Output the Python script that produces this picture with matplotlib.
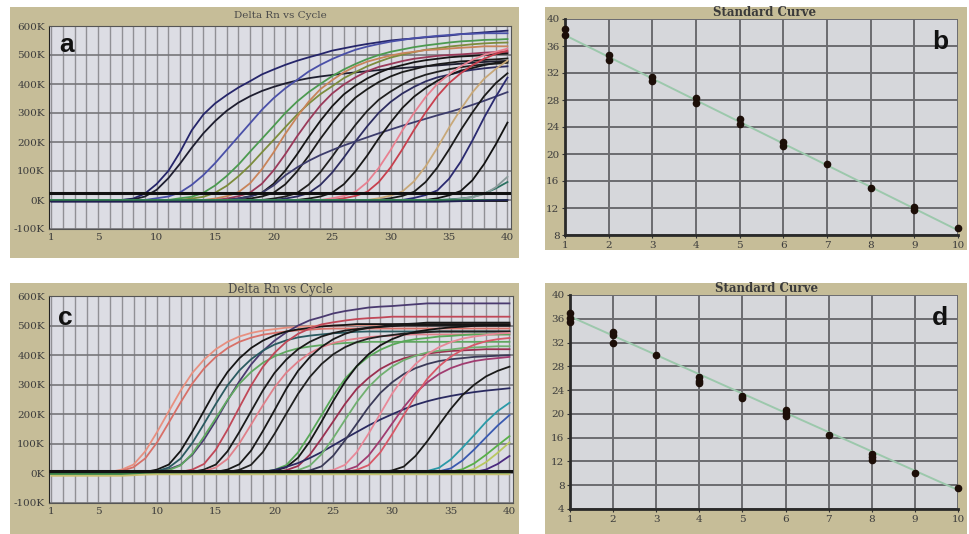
import matplotlib
matplotlib.use("Agg")
import matplotlib.pyplot as plt
from matplotlib.patches import Rectangle
from matplotlib.ticker import FixedLocator, MultipleLocator

# ---- data ----
cycles = list(range(1, 41))
amp_xticks = [1, 5, 10, 15, 20, 25, 30, 35, 40]
amp_yticks = [-100, 0, 100, 200, 300, 400, 500, 600]
amp_ylabels = ["-100K", "0K", "100K", "200K", "300K", "400K", "500K", "600K"]

# panel a curves (delta Rn in K, cycle 1..40)
a01 = [0,0,0,0,0,0,0,5,22,55,100,165,240,295,333,362,388,410,433,450,466,480,492,503,515,523,531,538,544,550,554,557,561,564,567,572,575,578,581,584]
a02 = [0,0,0,0,0,0,0,2,12,35,75,125,180,230,272,308,336,358,376,390,402,412,420,426,431,436,440,444,448,452,455,458,461,464,467,470,473,476,478,480]
a03 = [0,0,0,0,0,0,0,0,0,6,12,26,52,86,127,173,219,265,311,351,385,414,443,466,486,503,518,529,538,546,552,558,562,566,569,572,573,575,575,575]
a04 = [0,0,0,0,0,0,0,0,0,0,0,6,11,25,50,83,122,167,211,255,300,339,372,400,427,450,469,486,500,511,519,527,533,538,543,547,549,552,553,555]
a05 = [0,0,0,0,0,0,0,0,0,0,0,0,5,11,25,49,82,120,164,207,251,294,332,365,392,420,441,461,477,491,501,510,518,523,529,533,537,540,542,543]
a06 = [0,0,0,0,0,0,0,0,0,0,0,0,0,0,5,13,27,58,106,164,228,286,339,382,413,440,461,477,488,498,506,511,517,519,522,525,527,530,530,530]
a07 = [0,0,0,0,0,0,0,0,0,0,0,0,0,0,0,5,13,26,56,102,158,219,275,326,367,398,423,444,459,469,479,487,492,497,500,502,505,508,510,510]
a08 = [0,0,0,0,0,0,0,0,0,0,0,0,0,0,0,0,5,13,25,56,101,157,217,273,323,364,394,419,439,455,465,475,482,487,492,495,497,500,503,505]
a09 = [0,0,0,0,0,0,0,0,0,0,0,0,0,0,0,0,0,5,12,25,54,98,152,211,265,314,353,382,407,426,441,451,461,468,473,478,480,483,485,488]
a10 = [0,0,0,0,0,0,0,0,0,0,0,0,0,0,0,0,0,0,0,5,12,24,53,96,149,206,259,307,346,374,398,418,432,442,451,458,463,468,470,473]
a11 = [0,0,0,0,0,0,0,0,0,0,0,0,0,0,0,0,0,0,0,0,5,12,24,52,94,146,202,254,301,338,367,390,409,423,432,442,449,454,458,461]
a12 = [0,0,0,0,0,0,0,0,0,0,0,0,0,0,0,0,5,12,25,50,85,112,135,155,172,188,202,216,230,243,256,268,280,292,303,315,328,342,357,372]
a13 = [0,0,0,0,0,0,0,0,0,0,0,0,0,0,0,0,0,0,0,0,0,0,5,12,25,54,99,153,213,267,317,356,386,411,431,446,455,465,473,478]
a14 = [0,0,0,0,0,0,0,0,0,0,0,0,0,0,0,0,0,0,0,0,0,0,0,0,6,14,28,61,111,172,239,300,355,400,433,461,483,500,511,522]
a15 = [0,0,0,0,0,0,0,0,0,0,0,0,0,0,0,0,0,0,0,0,0,0,0,0,0,6,14,28,62,112,174,241,302,358,403,437,465,487,504,515]
a16 = [0,0,0,0,0,0,0,0,0,0,0,0,0,0,0,0,0,0,0,0,0,0,0,0,0,0,0,0,6,15,29,64,116,180,249,313,371,418,452,481]
a17 = [0,0,0,0,0,0,0,0,0,0,0,0,0,0,0,0,0,0,0,0,0,0,0,0,0,0,0,0,0,6,14,28,62,112,174,241,302,358,403,437]
a18 = [0,0,0,0,0,0,0,0,0,0,0,0,0,0,0,0,0,0,0,0,0,0,0,0,0,0,0,0,0,0,0,7,17,33,73,132,205,284,356,422]
a19 = [0,0,0,0,0,0,0,0,0,0,0,0,0,0,0,0,0,0,0,0,0,0,0,0,0,0,0,0,0,0,0,0,0,6,16,31,68,124,192,267]
a20 = [0,0,0,0,0,0,0,0,0,0,0,0,0,0,0,0,0,0,0,0,0,0,0,0,0,0,0,0,0,0,0,0,0,0,2,5,10,22,40,62]
a21 = [0,0,0,0,0,0,0,0,0,0,0,0,0,0,0,0,0,0,0,0,0,0,0,0,0,0,0,0,0,0,0,0,0,0,0,4,10,20,44,80]
a22 = [-3,-3,-3,-3,-3,-3,-3,-3,-3,-3,-3,-3,-3,-3,-3,-3,-3,-3,-3,-3,-3,-3,-3,-3,-3,-3,-3,-3,-3,-3,-3,-3,-3,-3,-3,-3,-3,-3,-3,-3]
a23 = [-1,-1,-1,-1,-1,-1,-1,-1,-1,-1,-1,-1,-1,-1,-1,-1,-1,-1,-1,-1,-1,-1,-1,-1,-1,-1,-1,-1,-1,-1,-1,-1,-1,-1,-1,-1,-1,-1,-1,-1]
a24 = [-6,-6,-6,-6,-6,-6,-6,-6,-6,-6,-6,-6,-6,-6,-6,-6,-6,-6,-6,-6,-6,-6,-6,-6,-6,-6,-6,-6,-6,-6,-6,-6,-6,-6,-5,-4,-3,-2,-1,0]
a_colors = ["#25256a", "#1e1e30", "#4a50a8", "#4c9a50", "#7c8c3c", "#c8845a",
            "#9a3a5a", "#151515", "#1a1a1a", "#202020", "#2c2c60", "#3c3c6c",
            "#181818", "#e88090", "#c8404e", "#c8a878", "#1a1a1a", "#2a2a70",
            "#111111", "#2a7060", "#8a9a9a", "#101010", "#2e8050", "#202050"]
a_thresh = 25

# panel c curves
c01 = [0,0,0,0,0,5,13,30,75,140,210,280,340,385,420,445,463,475,483,488,493,495,498,500,500,501,502,502,503,503,503,504,504,504,505,505,505,505,505,505]
c02 = [0,0,0,0,0,2,9,21,51,105,172,240,304,355,394,424,445,459,469,475,480,484,486,489,490,490,490,490,490,490,490,490,490,490,490,490,490,490,490,490]
c03 = [0,0,0,0,0,0,0,0,0,6,14,29,63,115,178,247,311,368,414,449,477,500,518,529,541,549,555,561,564,566,569,572,575,575,575,575,575,575,575,575]
c04 = [0,0,0,0,0,0,0,0,5,13,30,76,141,212,283,343,389,424,449,467,480,487,492,497,500,502,505,505,505,505,505,505,505,505,505,505,505,505,505,505]
c05 = [0,0,0,0,0,0,0,0,2,8,20,50,103,168,235,298,348,386,415,436,450,460,466,470,474,476,479,480,480,480,480,480,480,480,480,480,480,480,480,480]
c06 = [0,0,0,0,0,0,0,0,0,4,11,27,67,125,187,249,303,343,374,396,412,423,429,434,438,441,443,445,445,445,445,445,445,445,445,445,445,445,445,445]
c07 = [0,0,0,0,0,0,0,0,0,0,0,5,13,32,80,148,223,297,360,408,445,472,490,504,511,517,522,525,527,530,530,530,530,530,530,530,530,530,530,530]
c08 = [0,0,0,0,0,0,0,0,0,0,0,0,5,13,30,75,140,210,280,340,385,420,445,463,475,483,488,493,495,498,500,500,500,500,500,500,500,500,500,500]
c09 = [0,0,0,0,0,0,0,0,0,0,0,0,2,8,20,49,101,165,230,291,341,378,407,427,441,450,456,461,464,466,469,470,470,470,470,470,470,470,470,470]
c10 = [0,0,0,0,0,0,0,0,0,0,0,0,0,0,5,13,31,77,143,214,286,347,393,428,454,472,485,492,497,502,505,507,510,510,510,510,510,510,510,510]
c11 = [0,0,0,0,0,0,0,0,0,0,0,0,0,0,0,5,12,29,72,134,202,269,326,370,403,427,444,456,463,468,473,475,478,480,480,480,480,480,480,480]
c12 = [0,0,0,0,0,0,0,0,0,0,0,0,0,0,0,0,0,0,5,12,28,71,132,197,263,320,362,395,418,435,447,454,458,463,465,468,470,470,470,470]
c13 = [0,0,0,0,0,0,0,0,0,0,0,0,0,0,0,0,0,0,3,9,21,53,108,175,245,310,363,403,433,454,469,479,485,490,494,496,499,500,500,500]
c14 = [0,0,0,0,0,0,0,0,0,0,0,0,0,0,0,0,0,0,0,4,11,25,63,118,176,235,286,323,353,374,389,399,405,410,414,416,418,420,420,420]
c15 = [0,0,0,0,0,0,0,0,0,0,0,0,0,0,0,0,0,0,5,12,22,35,52,72,95,118,140,162,182,200,217,232,244,254,262,269,275,280,284,288]
c16 = [0,0,0,0,0,0,0,0,0,0,0,0,0,0,0,0,0,0,0,0,4,11,26,65,120,181,241,292,331,361,383,398,409,415,419,424,426,428,430,430]
c17 = [0,0,0,0,0,0,0,0,0,0,0,0,0,0,0,0,0,0,0,0,0,4,10,24,60,112,168,224,272,308,336,356,370,380,386,390,394,396,398,400]
c18 = [0,0,0,0,0,0,0,0,0,0,0,0,0,0,0,0,0,0,0,0,0,0,0,5,12,29,72,134,202,269,326,370,403,427,444,456,463,468,473,475]
c19 = [0,0,0,0,0,0,0,0,0,0,0,0,0,0,0,0,0,0,0,0,0,0,0,0,4,10,24,60,112,168,224,272,308,336,356,370,380,386,390,394]
c20 = [0,0,0,0,0,0,0,0,0,0,0,0,0,0,0,0,0,0,0,0,0,0,0,0,0,5,12,28,71,132,197,263,320,362,395,418,435,447,454,458]
c21 = [0,0,0,0,0,0,0,0,0,0,0,0,0,0,0,0,0,0,0,0,0,0,0,0,0,0,0,0,4,10,23,59,109,164,218,265,300,328,347,361]
c22 = [0,0,0,0,0,0,0,0,0,0,0,0,0,0,0,0,0,0,0,0,0,0,0,0,0,0,0,0,0,0,0,3,8,19,47,87,130,174,211,239]
c23 = [0,0,0,0,0,0,0,0,0,0,0,0,0,0,0,0,0,0,0,0,0,0,0,0,0,0,0,0,0,0,0,0,3,7,17,44,81,122,162,197]
c24 = [0,0,0,0,0,0,0,0,0,0,0,0,0,0,0,0,0,0,0,0,0,0,0,0,0,0,0,0,0,0,0,0,0,2,6,14,34,63,95,126]
c25 = [0,0,0,0,0,0,0,0,0,0,0,0,0,0,0,0,0,0,0,0,0,0,0,0,0,0,0,0,0,0,0,0,0,0,3,6,15,38,70,105]
c26 = [0,0,0,0,0,0,0,0,0,0,0,0,0,0,0,0,0,0,0,0,0,0,0,0,0,0,0,0,0,0,0,0,0,0,0,2,5,13,32,59]
c27 = [2,2,2,2,2,2,2,2,2,2,2,2,2,2,2,2,2,2,2,2,2,2,2,2,2,2,2,2,2,2,2,2,2,2,2,2,2,2,2,2]
c28 = [-3,-3,-3,-3,-3,-3,-3,-3,-3,-3,-3,-3,-3,-3,-3,-3,-3,-3,-3,-3,-3,-3,-3,-3,-3,-3,-3,-3,-3,-3,-3,-3,-3,-3,-3,-3,-3,-3,-3,-3]
c29 = [-8,-8,-8,-8,-8,-8,-8,-6,-4,-3,-3,-3,-3,-3,-3,-3,-3,-3,-3,-3,-3,-3,-3,-3,-3,-3,-3,-3,-3,-3,-3,-3,-3,-3,-3,-3,-3,-3,-3,-3]
c_colors = ["#e89080", "#d87068", "#4a3a70", "#151515", "#2a5a60", "#60a860",
            "#c04858", "#1a1a1a", "#e0808a", "#181818", "#202020", "#58a858",
            "#151515", "#9a3050", "#2a2a60", "#70b070", "#3a3a58", "#e88898",
            "#a03c70", "#d85868", "#1a1a1a", "#2a9aa8", "#3a5ab0", "#58b048",
            "#b8c860", "#4a2a80", "#101010", "#3a8a4a", "#c8c070"]
c_thresh = 8

# standard curves (log quantity vs Ct)
std_xticks = [1, 2, 3, 4, 5, 6, 7, 8, 9, 10]
b_x = [1, 1, 2, 2, 3, 3, 4, 4, 5, 5, 6, 6, 7, 8, 9, 9, 10]
b_y = [38.5, 37.7, 34.6, 34.0, 31.4, 30.8, 28.3, 27.6, 25.2, 24.5, 21.8, 21.2, 18.5, 15.0, 12.1, 11.7, 9.0]
b_fit_x = [1, 10]
b_fit_y = [37.6, 8.7]
d_x = [1, 1, 1, 2, 2, 2, 3, 4, 4, 4, 5, 5, 6, 6, 6, 7, 8, 8, 8, 9, 10]
d_y = [36.9, 36.1, 35.5, 33.8, 33.3, 32.0, 29.9, 26.2, 25.6, 25.2, 23.0, 22.6, 20.6, 20.1, 19.7, 16.5, 13.3, 12.7, 12.3, 10.0, 7.5]
d_fit_x = [1, 10]
d_fit_y = [36.4, 7.2]

a_curves = [a01, a02, a03, a04, a05, a06, a07, a08, a09, a10, a11, a12,
            a13, a14, a15, a16, a17, a18, a19, a20, a21, a22, a23, a24]
c_curves = [c01, c02, c03, c04, c05, c06, c07, c08, c09, c10, c11, c12, c13,
            c14, c15, c16, c17, c18, c19, c20, c21, c22, c23, c24, c25, c26,
            c27, c28, c29]

# ---- figure ----
W, H = 969, 534
fig = plt.figure(figsize=(W / 100, H / 100), dpi=100)
fig.patch.set_facecolor("white")
tan = "#c6bd98"
serif = "DejaVu Serif"


def frame(x0, y0, x1, y1):
    fig.add_artist(Rectangle((x0 / W, 1 - y1 / H), (x1 - x0) / W, (y1 - y0) / H,
                             transform=fig.transFigure, facecolor=tan,
                             edgecolor="none", zorder=0))


def box(x0, y0, x1, y1):
    return fig.add_axes([x0 / W, 1 - y1 / H, (x1 - x0) / W, (y1 - y0) / H])


def amp_panel(ax, curves, colors, thresh):
    ax.set_facecolor("#dcdde4")
    ax.set_xlim(0.8, 40.3)
    ax.set_ylim(-100, 600)
    ax.xaxis.set_major_locator(FixedLocator(amp_xticks))
    ax.xaxis.set_minor_locator(MultipleLocator(1))
    ax.set_yticks(amp_yticks)
    ax.set_yticklabels(amp_ylabels)
    ax.grid(which="both", axis="x", color="#909095", lw=1.0)
    ax.grid(which="major", axis="y", color="#76767a", lw=1.2)
    ax.set_axisbelow(True)
    for y, col in zip(curves, colors):
        ax.plot(cycles, y, color=col, lw=1.3, zorder=3)
    ax.axhline(thresh, color="#111111", lw=2.2, zorder=4)
    ax.tick_params(which="both", length=0, labelsize=7.5, labelcolor="#3c3c3c", pad=3)
    for lab in ax.get_xticklabels() + ax.get_yticklabels():
        lab.set_family(serif)
    for s in ax.spines.values():
        s.set_color("#555555")
        s.set_linewidth(0.8)
    ax.spines["left"].set_color("#222222")


def std_panel(ax, xs, ys, fx, fy, ymin):
    ax.set_facecolor("#d6d7db")
    ax.set_xlim(1, 10)
    ax.set_ylim(ymin, 40)
    ax.set_xticks(std_xticks)
    ax.set_yticks(list(range(ymin, 41, 4)))
    ax.grid(color="#6c6c70", lw=1.4)
    ax.set_axisbelow(True)
    ax.plot(fx, fy, color="#9cc8ac", lw=1.4, zorder=3)
    ax.plot(xs, ys, "o", color="#1c0e08", ms=4.5, zorder=4, clip_on=False)
    ax.tick_params(length=2, labelsize=7.5, labelcolor="#3c3c3c", color="#333333", pad=2)
    for lab in ax.get_xticklabels() + ax.get_yticklabels():
        lab.set_family(serif)
    ax.spines["top"].set_visible(False)
    ax.spines["right"].set_visible(False)
    ax.spines["left"].set_color("#2a2a2a")
    ax.spines["left"].set_linewidth(2)
    ax.spines["bottom"].set_color("#2a2a2a")
    ax.spines["bottom"].set_linewidth(2)


frame(10, 7, 519, 258)
frame(545, 7, 967, 250)
frame(10, 283, 519, 534)
frame(545, 283, 967, 534)

ax_a = box(49, 26, 511, 229)
amp_panel(ax_a, a_curves, a_colors, a_thresh)
ax_c = box(49, 296, 513, 503)
amp_panel(ax_c, c_curves, c_colors, c_thresh)
ax_b = box(565, 19, 958, 235)
std_panel(ax_b, b_x, b_y, b_fit_x, b_fit_y, 8)
ax_d = box(570, 295, 958, 509)
std_panel(ax_d, d_x, d_y, d_fit_x, d_fit_y, 4)

fig.text(280 / W, 1 - 16 / H, "Delta Rn vs Cycle", family=serif, fontsize=7.5,
         color="#4a4a4a", ha="center", va="center")
fig.text(281 / W, 1 - 290 / H, "Delta Rn vs Cycle", family=serif, fontsize=8.5,
         color="#4a4a4a", ha="center", va="center")
fig.text(765 / W, 1 - 13 / H, "Standard Curve", family=serif, fontsize=8.5,
         fontweight="bold", color="#3a3a3a", ha="center", va="center")
fig.text(767 / W, 1 - 288 / H, "Standard Curve", family=serif, fontsize=8.5,
         fontweight="bold", color="#3a3a3a", ha="center", va="center")

for letter, x, y in [("a", 67, 45), ("b", 940, 42), ("c", 65, 318), ("d", 940, 318)]:
    fig.text(x / W, 1 - y / H, letter, family="Liberation Sans", fontsize=19,
             fontweight="bold", color="#111111", ha="center", va="center")

fig.savefig("out.png", dpi=100, facecolor="white")
